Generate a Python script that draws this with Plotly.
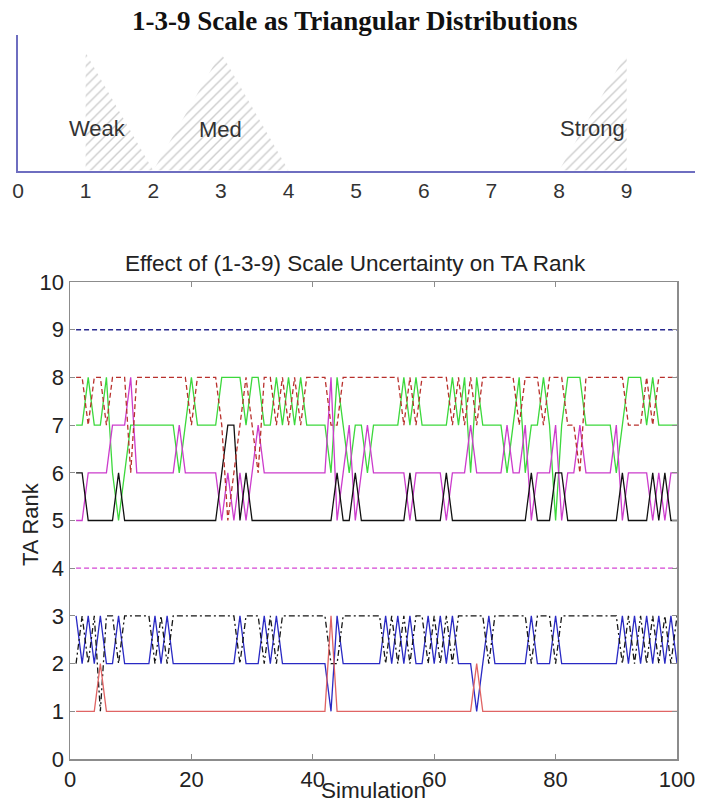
import plotly.graph_objects as go

# ---------------- Top panel: 1-3-9 scale as triangular distributions -------------
scale_names = ["Weak", "Med", "Strong"]
tri_low = [1, 2, 8]
tri_mode = [1, 3, 9]
tri_high = [2, 4, 9]
tri_peak = [1.0, 1.0, 1.0]
label_x = [1.17, 3.0, 8.49]
label_y = [0.36, 0.35, 0.36]
top_ticks = [0, 1, 2, 3, 4, 5, 6, 7, 8, 9]

# ---------------- Bottom panel: rank per simulation -------------------------------
simulation = list(range(1, 101))

rank_const_9 = [9] * 100
rank_const_4 = [4] * 100

rank_red_dash = [
    8, 8, 7, 8, 8, 7, 8, 8, 8, 6,
    8, 8, 8, 8, 8, 8, 8, 8, 8, 7,
    8, 8, 8, 8, 7, 5, 6, 7, 8, 7,
    6, 8, 8, 7, 8, 7, 8, 7, 8, 8,
    8, 8, 7, 7, 8, 8, 8, 8, 8, 8,
    8, 8, 8, 8, 7, 8, 7, 8, 8, 8,
    8, 8, 7, 8, 7, 8, 7, 8, 8, 8,
    8, 8, 8, 7, 8, 8, 8, 7, 8, 8,
    8, 7, 7, 6, 8, 8, 8, 8, 8, 8,
    8, 7, 7, 7, 8, 7, 8, 8, 8, 8,
]
rank_green = [
    7, 7, 8, 7, 7, 8, 6, 5, 6, 7,
    7, 7, 7, 7, 7, 7, 7, 6, 7, 8,
    7, 7, 7, 7, 8, 8, 8, 8, 7, 8,
    8, 7, 7, 8, 7, 8, 7, 8, 7, 7,
    7, 7, 6, 8, 7, 6, 7, 7, 6, 7,
    7, 7, 7, 7, 8, 7, 8, 7, 7, 7,
    7, 7, 8, 7, 8, 6, 8, 7, 7, 7,
    7, 6, 7, 8, 6, 7, 7, 8, 7, 5,
    7, 8, 8, 8, 7, 7, 7, 7, 7, 6,
    7, 8, 8, 8, 7, 8, 7, 7, 7, 7,
]
rank_magenta = [
    5, 5, 6, 6, 6, 6, 7, 7, 7, 8,
    6, 6, 6, 6, 6, 6, 6, 7, 6, 6,
    6, 6, 6, 6, 5, 6, 5, 6, 5, 6,
    7, 6, 6, 6, 6, 6, 6, 6, 6, 6,
    6, 6, 8, 5, 6, 7, 5, 6, 7, 6,
    6, 6, 6, 6, 6, 5, 6, 6, 6, 6,
    6, 5, 6, 6, 6, 7, 6, 6, 6, 6,
    6, 7, 6, 6, 7, 5, 6, 6, 6, 7,
    5, 6, 6, 7, 6, 6, 6, 6, 6, 7,
    5, 6, 6, 6, 6, 5, 6, 5, 6, 6,
]
rank_black = [
    6, 6, 5, 5, 5, 5, 5, 6, 5, 5,
    5, 5, 5, 5, 5, 5, 5, 5, 5, 5,
    5, 5, 5, 5, 6, 7, 7, 5, 6, 5,
    5, 5, 5, 5, 5, 5, 5, 5, 5, 5,
    5, 5, 5, 6, 5, 5, 6, 5, 5, 5,
    5, 5, 5, 5, 5, 6, 5, 5, 5, 5,
    5, 6, 5, 5, 5, 5, 5, 5, 5, 5,
    5, 5, 5, 5, 5, 6, 5, 5, 5, 6,
    6, 5, 5, 5, 5, 5, 5, 5, 5, 5,
    6, 5, 5, 5, 5, 6, 5, 6, 5, 5,
]

rank_red = [
    1, 1, 1, 1, 2, 1, 1, 1, 1, 1,
    1, 1, 1, 1, 1, 1, 1, 1, 1, 1,
    1, 1, 1, 1, 1, 1, 1, 1, 1, 1,
    1, 1, 1, 1, 1, 1, 1, 1, 1, 1,
    1, 1, 3, 1, 1, 1, 1, 1, 1, 1,
    1, 1, 1, 1, 1, 1, 1, 1, 1, 1,
    1, 1, 1, 1, 1, 1, 2, 1, 1, 1,
    1, 1, 1, 1, 1, 1, 1, 1, 1, 1,
    1, 1, 1, 1, 1, 1, 1, 1, 1, 1,
    1, 1, 1, 1, 1, 1, 1, 1, 1, 1,
]
rank_blue = [
    3, 2, 3, 2, 3, 2, 2, 3, 2, 2,
    2, 2, 2, 3, 2, 3, 2, 2, 2, 2,
    2, 2, 2, 2, 2, 2, 2, 3, 2, 2,
    2, 3, 2, 3, 2, 2, 2, 2, 2, 2,
    2, 2, 1, 3, 2, 2, 2, 2, 2, 2,
    2, 3, 2, 3, 2, 3, 2, 2, 3, 2,
    3, 2, 3, 2, 2, 2, 1, 2, 3, 2,
    2, 2, 2, 2, 2, 3, 2, 2, 2, 3,
    2, 2, 2, 2, 2, 2, 2, 2, 2, 2,
    3, 2, 3, 2, 3, 2, 3, 2, 3, 2,
]
rank_black_dd = [
    2, 3, 2, 3, 1, 3, 3, 2, 3, 3,
    3, 3, 3, 2, 3, 2, 3, 3, 3, 3,
    3, 3, 3, 3, 3, 3, 3, 2, 3, 3,
    3, 2, 3, 2, 3, 3, 3, 3, 3, 3,
    3, 3, 2, 2, 3, 3, 3, 3, 3, 3,
    3, 2, 3, 2, 3, 2, 3, 3, 2, 3,
    2, 3, 2, 3, 3, 3, 3, 3, 2, 3,
    3, 3, 3, 3, 3, 2, 3, 3, 3, 2,
    3, 3, 3, 3, 3, 3, 3, 3, 3, 3,
    2, 3, 2, 3, 2, 3, 2, 3, 2, 3,
]
bottom_yticks = [0, 1, 2, 3, 4, 5, 6, 7, 8, 9, 10]
bottom_xticks = [0, 20, 40, 60, 80, 100]

W, H = 704, 805
SANS = "Liberation Sans, Arial, sans-serif"
SERIF = "Liberation Serif, Times New Roman, serif"
AXIS_BLUE = "#6e6ec0"

fig = go.Figure()

# triangles (hatched)
for name, lo, mo, hi, pk in zip(scale_names, tri_low, tri_mode, tri_high, tri_peak):
    fig.add_trace(go.Scatter(
        x=[lo, mo, hi, lo], y=[0, pk, 0, 0],
        mode="lines", fill="toself",
        fillcolor="rgba(0,0,0,0)",
        fillpattern=dict(shape="/", fgcolor="#9c9c9c", bgcolor="white",
                         size=7, solidity=0.2),
        line=dict(width=0, color="rgba(0,0,0,0)"),
        xaxis="x", yaxis="y", showlegend=False, hoverinfo="skip", name=name,
    ))

def line(y, color, dash="solid", width=1.3):
    fig.add_trace(go.Scatter(
        x=simulation, y=y, mode="lines",
        line=dict(color=color, dash=dash, width=width),
        xaxis="x2", yaxis="y2", showlegend=False, hoverinfo="skip",
    ))

line(rank_const_9, "#28288e", "5px,3px", 1.6)
line(rank_const_4, "#d445d4", "5px,3px")
line(rank_green, "#3cd83c")
line(rank_magenta, "#cc3ccc")
line(rank_black, "#111111")
line(rank_red_dash, "#b8302c", "5px,3px")
line(rank_blue, "#2a2ac4")
line(rank_black_dd, "#151515", "6px,3px,2px,3px")
line(rank_red, "#e06464")

# text annotations
annotations = []
for name, lx, ly in zip(scale_names, label_x, label_y):
    annotations.append(dict(x=lx, y=ly, xref="x", yref="y", text=name, showarrow=False,
                            xanchor="center", yanchor="middle",
                            font=dict(family=SANS, size=22, color="#333333")))

def paper_text(text, px, py, size, family=SANS, angle=0, color="#222222",
               yanchor="middle"):
    return dict(x=px / W, y=1 - py / H, xref="paper", yref="paper", showarrow=False,
                xanchor="center", yanchor=yanchor, text=text, textangle=angle,
                font=dict(family=family, size=size, color=color))

annotations += [
    paper_text("<b>1-3-9 Scale as Triangular Distributions</b>", 355, 21, 27, SERIF,
               color="#111111"),
    paper_text("Effect of (1-3-9) Scale Uncertainty on TA Rank", 355, 263, 22.5),
    paper_text("TA Rank", 30, 524, 22, angle=-90),
    paper_text("Simulation", 373, 805, 22.5, yanchor="bottom"),
]

fig.update_layout(
    width=W, height=H,
    margin=dict(l=0, r=0, t=0, b=0, autoexpand=False),
    paper_bgcolor="white", plot_bgcolor="white",
    showlegend=False,
    annotations=annotations,
    xaxis=dict(domain=[18 / W, 695 / W], range=[0, 10.01], automargin=False,
               tickvals=top_ticks, ticktext=[str(t) for t in top_ticks],
               showgrid=False, zeroline=False, showline=True, linecolor=AXIS_BLUE,
               linewidth=2, ticks="", layer="below traces",
               tickfont=dict(family=SANS, size=21, color="#333333"),
               anchor="y", fixedrange=True),
    yaxis=dict(domain=[1 - 170.5 / H, 1 - 35 / H], range=[0, 1.15], automargin=False,
               showgrid=False, zeroline=False, showline=True, linecolor=AXIS_BLUE,
               linewidth=2, showticklabels=False, ticks="", anchor="x",
               fixedrange=True),
    xaxis2=dict(domain=[70 / W, 677 / W], range=[0, 100], tickvals=bottom_xticks,
                automargin=False,
                showgrid=False, zeroline=False, showline=True, mirror="ticks",
                linecolor="#8c8c8c", linewidth=1.5, ticks="inside", ticklen=5,
                tickcolor="#8c8c8c",
                tickfont=dict(family=SANS, size=22, color="#222222"),
                anchor="y2"),
    yaxis2=dict(domain=[1 - 759 / H, 1 - 282 / H], range=[0, 10], tickvals=bottom_yticks,
                automargin=False,
                showgrid=False, zeroline=False, showline=True, mirror="ticks",
                linecolor="#8c8c8c", linewidth=1.5, ticks="inside", ticklen=5,
                tickcolor="#8c8c8c",
                tickfont=dict(family=SANS, size=22, color="#222222"),
                anchor="x2"),
)

fig.write_html("out.html", config={"displayModeBar": False, "staticPlot": True},
               post_script="document.body.style.margin='0';document.body.style.overflow='hidden';")
